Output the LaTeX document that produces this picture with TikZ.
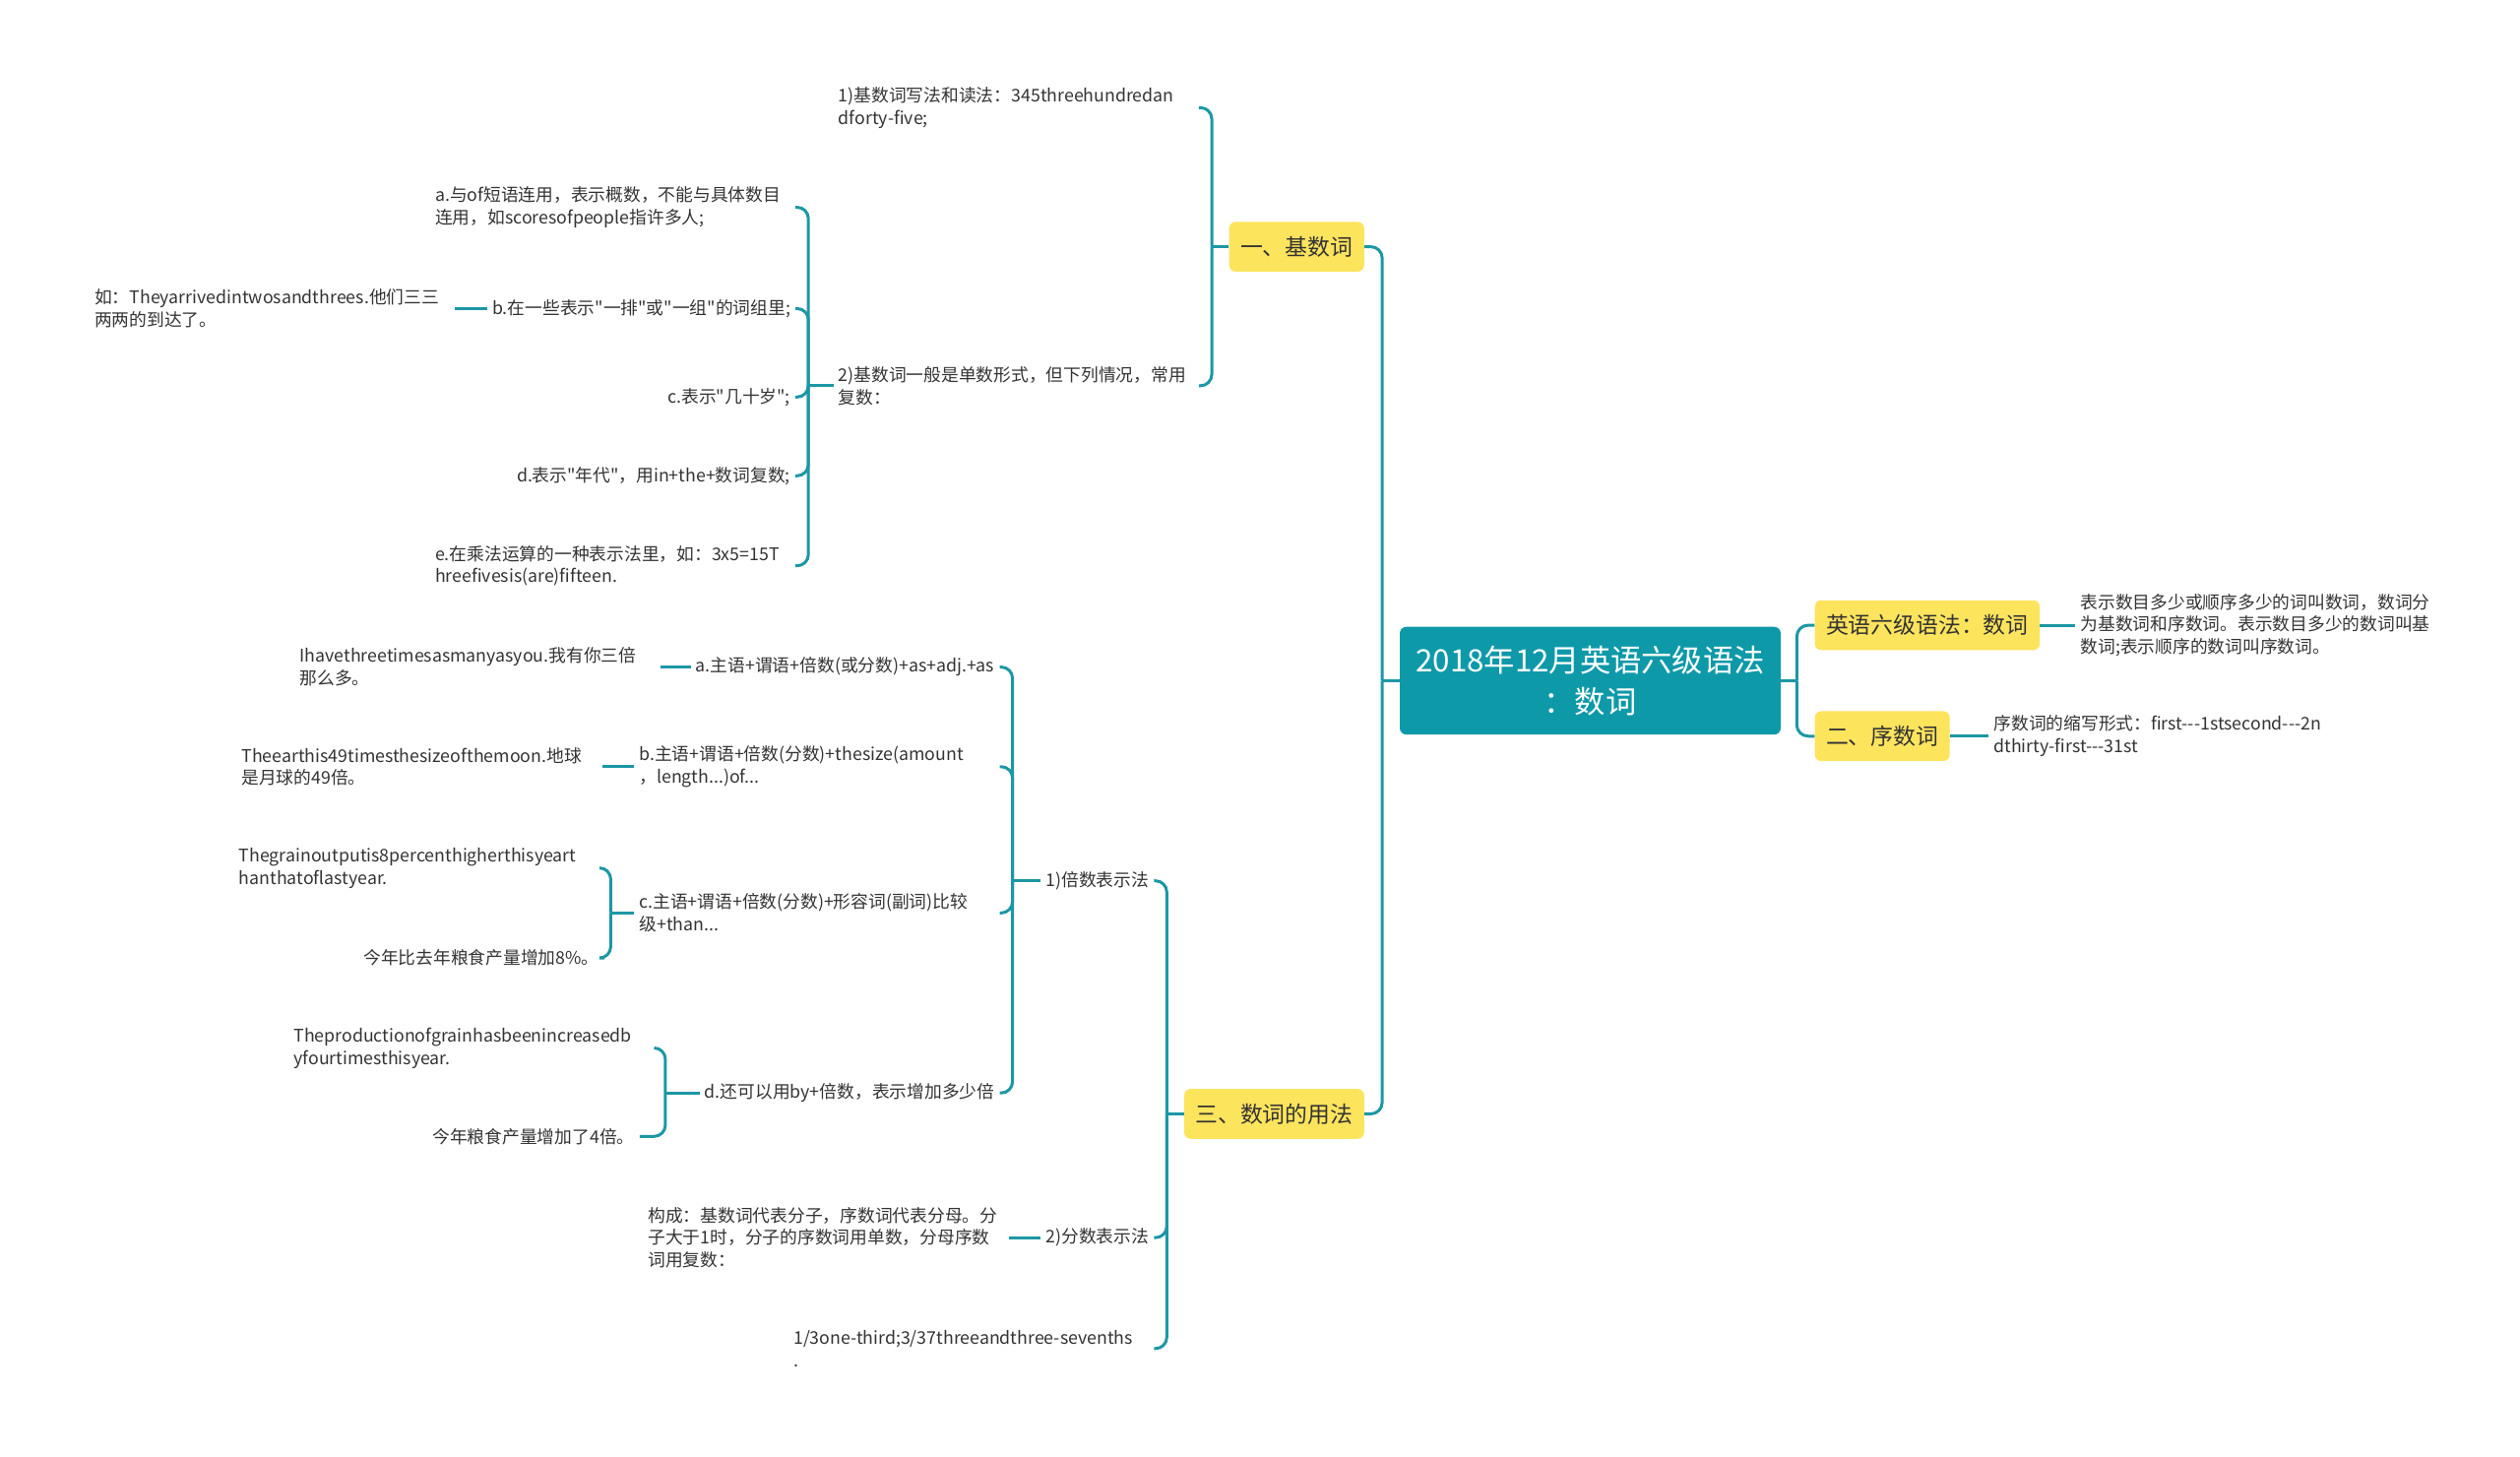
\documentclass[tikz,border=0pt]{standalone}
\usepackage{fontspec}
\setmainfont{Noto Sans CJK SC}[Ligatures=TeXOff]
\usetikzlibrary{positioning}
\definecolor{tealline}{HTML}{1C97A5}
\definecolor{tealroot}{HTML}{0E99A9}
\definecolor{sun}{HTML}{FDE45D}
\definecolor{ink}{HTML}{333333}
\newlength\pxu
\setlength\pxu{0.032654cm}
\exhyphenpenalty=10000
\tikzset{
  root/.style={fill=tealroot,text=white,rounded corners=4\pxu,align=center,minimum width=237\pxu,minimum height=67\pxu,inner sep=0pt,font=\fontsize{17.8}{24}\selectfont},
  topic/.style={fill=sun,text=ink,rounded corners=4\pxu,minimum height=31\pxu,inner xsep=7\pxu,inner ysep=0pt,font=\fontsize{13}{16}\selectfont},
  leaf/.style={text=ink,inner sep=3\pxu,align=left,font=\fontsize{10.1}{13}\selectfont},
  wrap/.style={leaf,text width=221\pxu},
  link/.style={draw=tealline,line width=1.7pt,rounded corners=7\pxu},
}
\begin{document}
\begin{tikzpicture}[x=0.032654cm,y=-0.032654cm]
\useasboundingbox (0,0) rectangle (1568,906);
% centre and main topics
\node[root] (root) at (989.5,423.5) {2018年12月英语六级语法\\：数词};
\node[topic,anchor=east] (jishu) at (849,153.5) {一、基数词};
\node[topic,anchor=east] (yongfa) at (849,693) {三、数词的用法};
\node[topic,anchor=west] (r1) at (1129,389) {英语六级语法：数词};
\node[topic,anchor=west] (r2) at (1129,458) {二、序数词};
\node[wrap,right=22\pxu of r1] (r1c) {表示数目多少或顺序多少的词叫数词，数词分\\为基数词和序数词。表示数目多少的数词叫基\\数词;表示顺序的数词叫序数词。};
\node[wrap,right=24\pxu of r2] (r2c) {序数词的缩写形式：first---1stsecond---2n\\dthirty-first---31st};
% 一、基数词
\node[wrap,anchor=east] (k1) at (746,67) {1)基数词写法和读法：345threehundredan\\dforty-five;};
\node[wrap,anchor=east] (k2) at (746,240) {2)基数词一般是单数形式，但下列情况，常用\\复数：};
\node[wrap,anchor=east] (ka) at (495,129) {a.与of短语连用，表示概数，不能与具体数目\\连用，如scoresofpeople指许多人;};
\node[leaf,anchor=east] (kb) at (495,192) {b.在一些表示"一排"或"一组"的词组里;};
\node[leaf,anchor=east] (kc) at (495,247) {c.表示"几十岁";};
\node[leaf,anchor=east] (kd) at (495,296) {d.表示"年代"，用in+the+数词复数;};
\node[wrap,anchor=east] (ke) at (495,352) {e.在乘法运算的一种表示法里，如：3x5=15T\\hreefivesis(are)fifteen.};
\node[wrap,left=20\pxu of kb] (kbx) {如：Theyarrivedintwosandthrees.他们三三\\两两的到达了。};
% 三、数词的用法
\node[leaf,anchor=east] (p1) at (718,548) {1)倍数表示法};
\node[leaf,anchor=east] (p2) at (718,770) {2)分数表示法};
\node[wrap,anchor=east] (p3) at (718,839) {1/3one-third;3/37threeandthree-sevenths\\.};
\node[wrap,left=20\pxu of p2] (p2c) {构成：基数词代表分子，序数词代表分母。分\\子大于1时，分子的序数词用单数，分母序数\\词用复数：};
\node[leaf,anchor=east] (ma) at (622,415) {a.主语+谓语+倍数(或分数)+as+adj.+as};
\node[wrap,anchor=east] (mb) at (622,477) {b.主语+谓语+倍数(分数)+thesize(amount\\，length...)of...};
\node[wrap,anchor=east] (mc) at (622,568) {c.主语+谓语+倍数(分数)+形容词(副词)比较\\级+than...};
\node[leaf,anchor=east] (md) at (622,680) {d.还可以用by+倍数，表示增加多少倍};
\node[wrap,left=19\pxu of ma] (ea) {Ihavethreetimesasmanyasyou.我有你三倍\\那么多。};
\node[wrap,left=20\pxu of mb] (eb) {Theearthis49timesthesizeofthemoon.地球\\是月球的49倍。};
\node[wrap,anchor=east] (mc1) at (373,540) {Thegrainoutputis8percenthigherthisyeart\\hanthatoflastyear.};
\node[leaf,anchor=east] (mc2) at (376,596) {今年比去年粮食产量增加8\%。};
\node[wrap,anchor=east] (md1) at (407,652) {Theproductionofgrainhasbeenincreasedb\\yfourtimesthisyear.};
\node[leaf,anchor=east] (md2) at (398,707) {今年粮食产量增加了4倍。};
% junctions
\coordinate (lj) at (860,423.5); \coordinate (rj) at (1118,423.5);
\coordinate (jj) at (754,153.5); \coordinate (kj) at (503,240);
\coordinate (yj) at (726,693); \coordinate (pj) at (630,548);
\coordinate (cj) at (380,568); \coordinate (dj) at (414,680);
% connectors
\draw[link] (root.west) -- (lj); \draw[link] (lj) |- (jishu.east); \draw[link] (lj) |- (yongfa.east);
\draw[link] (root.east) -- (rj); \draw[link] (rj) |- (r1.west); \draw[link] (rj) |- (r2.west);
\draw[link] (r1) -- (r1c); \draw[link] (r2) -- (r2c);
\draw[link] (jishu.west) -- (jj); \draw[link] (jj) |- (k1.east); \draw[link] (jj) |- (k2.east);
\draw[link] (k2.west) -- (kj);
\foreach \n in {ka,kb,kc,kd,ke} \draw[link] (kj) |- (\n.east);
\draw[link] (kb) -- (kbx);
\draw[link] (yongfa.west) -- (yj);
\foreach \n in {p1,p2,p3} \draw[link] (yj) |- (\n.east);
\draw[link] (p2) -- (p2c);
\draw[link] (p1.west) -- (pj);
\foreach \n in {ma,mb,mc,md} \draw[link] (pj) |- (\n.east);
\draw[link] (ma) -- (ea); \draw[link] (mb) -- (eb);
\draw[link] (mc.west) -- (cj); \draw[link] (cj) |- (mc1.east); \draw[link] (cj) |- (mc2.east);
\draw[link] (md.west) -- (dj); \draw[link] (dj) |- (md1.east); \draw[link] (dj) |- (md2.east);
\end{tikzpicture}
\end{document}
